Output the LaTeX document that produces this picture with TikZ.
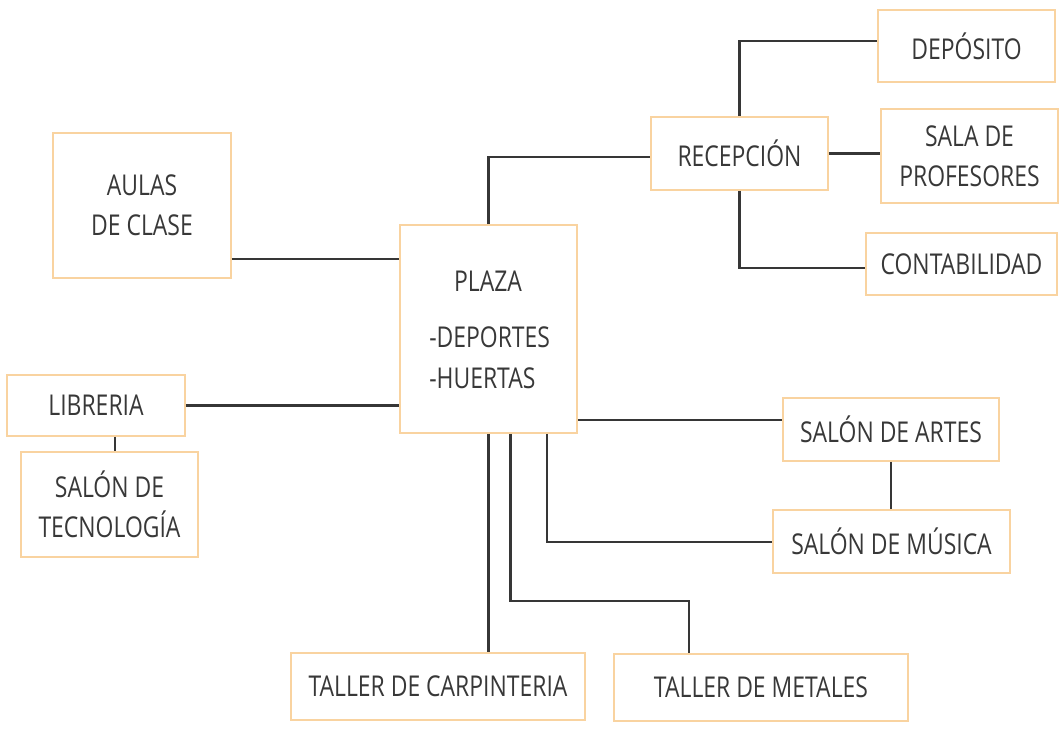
\documentclass[tikz,border=0pt]{standalone}
\usepackage{fontspec}
\setmainfont{Open Sans}[FakeStretch=0.8]
\usetikzlibrary{calc}
\definecolor{boxc}{HTML}{F9D3A0}
\definecolor{linec}{HTML}{363636}
\definecolor{txtc}{HTML}{383838}
\tikzset{
  room/.style={draw=boxc, line width=1.2pt, fill=white, inner sep=0pt, align=center,
    text=txtc, font=\fontsize{21.5}{30}\selectfont},
  lbl/.style={text=txtc, font=\fontsize{21.5}{30}\selectfont, inner sep=0pt},
  link/.style={draw=linec, line width=1.7pt}
}
\begin{document}
\begin{tikzpicture}[x=0.75pt,y=-0.75pt]
\useasboundingbox (0,0) rectangle (1061,730);
% boxes
\node[room, minimum width=177*0.75pt, minimum height=72*0.75pt] (dep) at (966.5,46) {DEPÓSITO};
\node[room, minimum width=177*0.75pt, minimum height=94*0.75pt] (sala) at (969.5,156) {SALA DE\\PROFESORES};
\node[room, minimum width=191*0.75pt, minimum height=62*0.75pt] (cont) at (961.5,264) {CONTABILIDAD};
\node[room, minimum width=177*0.75pt, minimum height=73*0.75pt] (rec) at (739.5,153.5) {RECEPCIÓN};
\node[room, minimum width=178*0.75pt, minimum height=145*0.75pt] (aulas) at (142,205.5) {AULAS\\DE CLASE};
\node[room, minimum width=177*0.75pt, minimum height=208*0.75pt] (plaza) at (488.5,329) {};
\node[lbl] (plazat) at (488,281) {PLAZA};
\node[lbl, anchor=west] (plazad) at (429,337) {-DEPORTES};
\node[lbl, anchor=west] (plazah) at (429,378) {-HUERTAS};
\node[room, minimum width=178*0.75pt, minimum height=61*0.75pt] (lib) at (96,405.5) {LIBRERIA};
\node[room, minimum width=177*0.75pt, minimum height=105*0.75pt] (tec) at (109.5,504.5) {SALÓN DE\\TECNOLOGÍA};
\node[room, minimum width=216*0.75pt, minimum height=63*0.75pt] (artes) at (891,429.5) {SALÓN DE ARTES};
\node[room, minimum width=237*0.75pt, minimum height=63*0.75pt] (musica) at (891.5,541.5) {SALÓN DE MÚSICA};
\node[room, minimum width=294*0.75pt, minimum height=67*0.75pt] (carp) at (438,686.5) {TALLER DE CARPINTERIA};
\node[room, minimum width=294*0.75pt, minimum height=67*0.75pt] (met) at (761,687.5) {TALLER DE METALES};
% connectors
\draw[link] (plaza.north) |- ($(rec.west)+(0,3.5)$);
\draw[link] (rec.north) |- ($(dep.west)+(0,-5)$);
\draw[link] (rec.east) -- (rec.east -| sala.west);
\draw[link] (rec.south) |- ($(cont.west)+(0,4)$);
\draw[link] ($(aulas.south east)+(0,-20)$) coordinate (a1) -- (a1 -| plaza.west);
\draw[link] (lib.east) -- (lib.east -| plaza.west);
\draw[link] ($(lib.south)+(19,0)$) coordinate (l1) -- (l1 |- tec.north);
\draw[link] ($(plaza.south east)+(0,-14)$) coordinate (p1) -- (p1 -| artes.west);
\draw[link] (artes.south) -- (artes.south |- musica.north);
\draw[link] (plaza.south) -- (plaza.south |- carp.north);
\draw[link] ($(plaza.south)+(22,0)$) -- ++(0,167) -| ($(met.north west)+(76,0)$);
\draw[link] ($(plaza.south)+(58.5,0)$) |- ($(musica.west)+(0,0.5)$);
\end{tikzpicture}
\end{document}
